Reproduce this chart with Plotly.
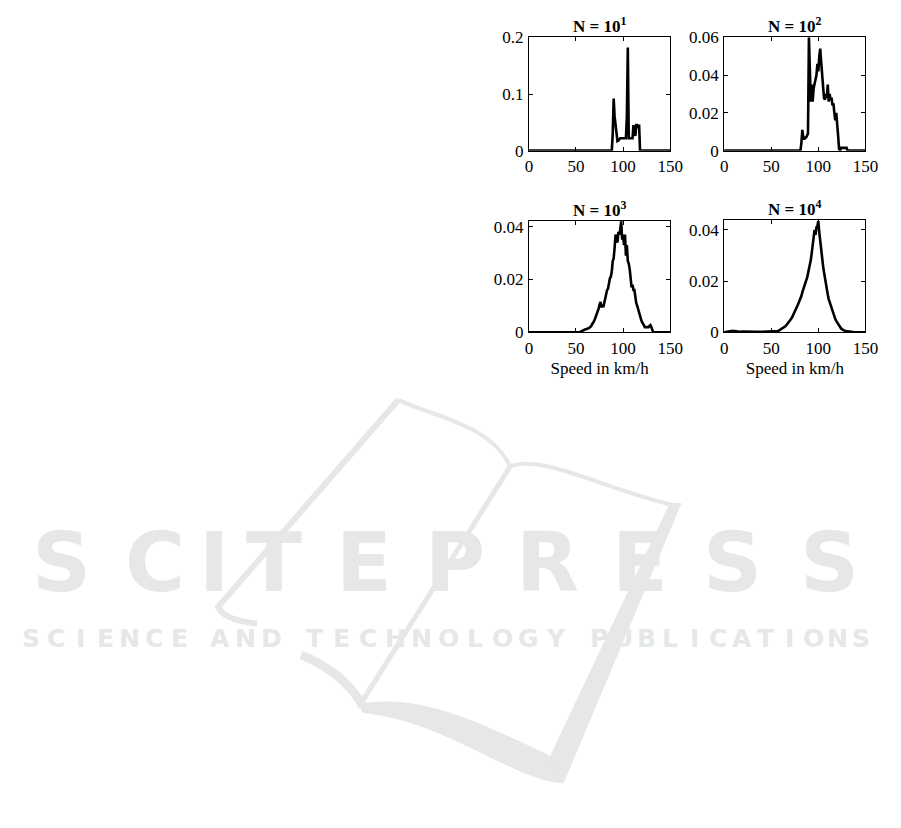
import plotly.graph_objects as go

# ---------------- data ----------------
speed_n1 = [0, 88, 89, 90, 91, 92, 93, 94, 95, 96, 97, 100, 103, 104, 105, 106, 107, 110,
            111, 112, 113, 114, 115, 116, 117, 118, 150]
dens_n1 = [0, 0, 0.03, 0.092, 0.06, 0.045, 0.03, 0.017, 0.018, 0.021, 0.022, 0.022, 0.022,
           0.06, 0.182, 0.022, 0.022, 0.022, 0.045, 0.03, 0.026, 0.045, 0.045, 0.04, 0.046, 0, 0]

speed_n2 = [0, 81, 82, 83, 84, 85, 86, 87, 88, 89, 90, 91, 92, 93, 94, 95, 96, 97, 98, 99, 100,
            101, 102, 103, 104, 105, 106, 107, 108, 109, 110, 111, 112, 113, 114, 115, 116, 117,
            118, 119, 120, 121, 122, 123, 124, 130, 131, 150]
dens_n2 = [0, 0, 0.004, 0.011, 0.007, 0.006, 0.007, 0.007, 0.008, 0.009, 0.06, 0.035, 0.026,
           0.035, 0.026, 0.033, 0.036, 0.038, 0.04, 0.046, 0.042, 0.05, 0.054, 0.047, 0.04, 0.03,
           0.028, 0.027, 0.03, 0.028, 0.035, 0.026, 0.03, 0.027, 0.028, 0.024, 0.025, 0.02, 0.016,
           0.02, 0.01, 0.008, 0.001, 0.0, 0.0015, 0.0015, 0.0, 0]

speed_n3 = [0, 54, 55, 56, 57, 58, 59, 60, 61, 62, 63, 64, 65, 66, 67, 68, 69, 70, 71, 72, 73, 74,
            75, 76, 77, 78, 79, 80, 81, 82, 83, 84, 85, 86, 87, 88, 89, 90, 91, 92, 93, 94, 95, 96,
            97, 98, 99, 100, 101, 102, 103, 104, 105, 106, 107, 108, 109, 110, 111, 112, 113, 114,
            115, 116, 117, 118, 119, 120, 121, 122, 123, 124, 125, 126, 127, 128, 129, 130, 131,
            132, 150]
dens_n3 = [0, 0, 0.0003, 0.0005, 0.0008, 0.001, 0.0012, 0.0012, 0.0012, 0.0013, 0.0015, 0.0017,
           0.002, 0.0023, 0.003, 0.0035, 0.0042, 0.005, 0.006, 0.007, 0.0075, 0.009, 0.0105,
           0.0115, 0.0095, 0.0105, 0.0095, 0.011, 0.013, 0.015, 0.016, 0.0165, 0.019, 0.0205,
           0.021, 0.023, 0.027, 0.028, 0.032, 0.037, 0.035, 0.034, 0.038, 0.037, 0.039, 0.042,
           0.035, 0.037, 0.033, 0.037, 0.029, 0.033, 0.027, 0.026, 0.024, 0.02, 0.017, 0.018,
           0.016, 0.016, 0.013, 0.011, 0.01, 0.0085, 0.0075, 0.006, 0.005, 0.004, 0.003, 0.0028,
           0.002, 0.002, 0.0018, 0.0018, 0.002, 0.0025, 0.0028, 0.002, 0.0005, 0, 0]

speed_n4 = [0, 2, 5, 7, 9, 11, 13, 16, 20, 25, 30, 35, 40, 45, 50, 54, 56, 57, 58, 59, 60, 61, 62,
            63, 64, 65, 66, 67, 68, 69, 70, 71, 72, 73, 74, 75, 76, 77, 78, 79, 80, 81, 82, 83,
            84, 85, 86, 87, 88, 89, 90, 91, 92, 93, 94, 95, 96, 97, 98, 99, 100, 101, 102, 103,
            104, 105, 106, 107, 108, 109, 110, 111, 112, 113, 114, 115, 116, 117, 118, 119, 120,
            121, 122, 123, 124, 125, 126, 127, 128, 129, 130, 132, 135, 138, 150]
dens_n4 = [0, 0.0002, 0.0003, 0.0005, 0.0006, 0.0005, 0.0004, 0.0002, 0.0003, 0.0002, 0.0003,
           0.0002, 0.0002, 0.0003, 0.0002, 0.0003, 0.0004, 0.0005, 0.0007, 0.0009, 0.0011,
           0.0013, 0.0015, 0.0018, 0.0021, 0.0024, 0.0028, 0.0032, 0.0036, 0.0041, 0.0046,
           0.0052, 0.0058, 0.0065, 0.0072, 0.008, 0.0089, 0.0097, 0.0106, 0.0115, 0.0122, 0.013,
           0.0142, 0.0156, 0.017, 0.0183, 0.0193, 0.0202, 0.0212, 0.0228, 0.0245, 0.026, 0.0282,
           0.031, 0.0335, 0.037, 0.040, 0.038, 0.041, 0.0415, 0.0434, 0.039, 0.035, 0.031,
           0.0285, 0.026, 0.0235, 0.021, 0.0195, 0.017, 0.0148, 0.013, 0.0118, 0.0105, 0.0095,
           0.0086, 0.0076, 0.0065, 0.0052, 0.0045, 0.0038, 0.0031, 0.0025, 0.002, 0.0016,
           0.0013, 0.001, 0.0008, 0.0006, 0.0005, 0.0004, 0.0003, 0.0002, 0.0, 0.0]

panel_titles = ["N = 10<sup>1</sup>", "N = 10<sup>2</sup>", "N = 10<sup>3</sup>", "N = 10<sup>4</sup>"]
x_tickvals = [0, 50, 100, 150]
x_ticktext = ["0", "50", "100", "150"]
y_ticks = [[0, 0.1, 0.2], [0, 0.02, 0.04, 0.06], [0, 0.02, 0.04], [0, 0.02, 0.04]]
y_ticktext = [["0", "0.1", "0.2"], ["0", "0.02", "0.04", "0.06"], ["0", "0.02", "0.04"], ["0", "0.02", "0.04"]]
y_max = [0.2, 0.06, 0.0421, 0.0438]
x_label = "Speed in km/h"

series = [(speed_n1, dens_n1), (speed_n2, dens_n2), (speed_n3, dens_n3), (speed_n4, dens_n4)]

# ---------------- layout geometry ----------------
W, H = 901, 828
boxes = [(535, 679, 29, 145), (734, 878, 29, 145), (535, 679, 217, 331), (734, 878, 216, 331)]

SERIF = "Liberation Serif, Times New Roman, serif"
fig = go.Figure()

for i, ((xs, ys), (x0, x1, y0, y1)) in enumerate(zip(series, boxes)):
    k = "" if i == 0 else str(i + 1)
    fig.add_trace(go.Scatter(x=xs, y=ys, mode="lines", line=dict(color="black", width=2.6),
                             xaxis="x" + k, yaxis="y" + k, showlegend=False, hoverinfo="skip"))
    common = dict(showline=True, linecolor="black", linewidth=1, mirror="ticks",
                  ticks="inside", ticklen=4, tickcolor="black", tickwidth=1,
                  showgrid=False, zeroline=False,
                  tickfont=dict(family=SERIF, size=17, color="black"))
    xa = dict(domain=[x0 / W, x1 / W], range=[0, 150], anchor="y" + k,
              tickvals=x_tickvals, ticktext=x_ticktext, **common)
    if i >= 2:
        xa["title"] = dict(text=x_label, font=dict(family=SERIF, size=17, color="black"), standoff=5)
    ya = dict(domain=[1 - y1 / H, 1 - y0 / H], range=[0, y_max[i]], anchor="x" + k,
              tickvals=y_ticks[i], ticktext=y_ticktext[i], ticklabelstandoff=1, **common)
    fig.layout["xaxis" + k] = xa
    fig.layout["yaxis" + k] = ya
    fig.add_annotation(x=(x0 + x1) / 2 / W, y=1 - y0 / H, xref="paper", yref="paper",
                       text="<b>" + panel_titles[i] + "</b>", showarrow=False,
                       xanchor="center", yanchor="bottom", yshift=-1,
                       font=dict(family=SERIF, size=17, color="black"))

# ---------------- background watermark (publisher logo) ----------------
WM = "#e6e7e7"

def P(x, y):
    return f"{x / W:.5f},{1 - y / H:.5f}"

def stroke(d, width):
    fig.add_shape(type="path", path=d, xref="paper", yref="paper", layer="below",
                  line=dict(color=WM, width=width))

def fill(d):
    fig.add_shape(type="path", path=d, xref="paper", yref="paper", layer="below",
                  line=dict(color=WM, width=1), fillcolor=WM)

stroke(f"M{P(402,400)} L{P(218,612)} Q{P(225,626)} {P(258,629)}", 6)
stroke(f"M{P(402,400)} C{P(440,418)} {P(495,425)} {P(516,468)}", 4)
stroke(f"M{P(516,468)} C{P(550,455)} {P(620,495)} {P(684,508)}", 4)
stroke(f"M{P(516,468)} L{P(363,712)}", 5)
fill(f"M{P(679,506)} L{P(690,506)} L{P(570,792)} L{P(547,786)} Z")
stroke(f"M{P(303,661)} Q{P(348,680)} {P(366,714)}", 9)
fill(f"M{P(362,712)} C{P(420,700)} {P(480,728)} {P(555,764)} L{P(570,792)} "
     f"C{P(520,790)} {P(450,728)} {P(366,720)} Z")

big_word = "SCITEPRESS"
big_centers = [59, 154, 215, 275, 367, 460, 554, 648, 742, 841]
for ch, cx in zip(big_word, big_centers):
    fig.add_annotation(x=cx / W, y=1 - 567 / H, xref="paper", yref="paper", text=ch,
                       showarrow=False, xanchor="center", yanchor="middle",
                       font=dict(family="DejaVu Sans", size=82, color=WM, weight="bold"))

small_words = [("SCIENCE", 15, 191), ("AND", 207, 286), ("TECHNOLOGY", 303, 576),
               ("PUBLICATIONS", 594, 886)]
for word, a, b in small_words:
    step = (b - a) / len(word)
    for j, ch in enumerate(word):
        fig.add_annotation(x=(a + (j + 0.5) * step) / W, y=1 - 644 / H, xref="paper",
                           yref="paper", text=ch, showarrow=False, xanchor="center",
                           yanchor="middle",
                           font=dict(family="DejaVu Sans", size=25, color=WM, weight="bold"))

fig.update_layout(width=W, height=H, margin=dict(l=0, r=0, t=0, b=0),
                  paper_bgcolor="white", plot_bgcolor="white")

fig.write_html("out.html", config={"displayModeBar": False, "staticPlot": True},
               post_script="document.body.style.margin='0';document.body.style.padding='0';"
                           "document.body.style.overflow='hidden';")
